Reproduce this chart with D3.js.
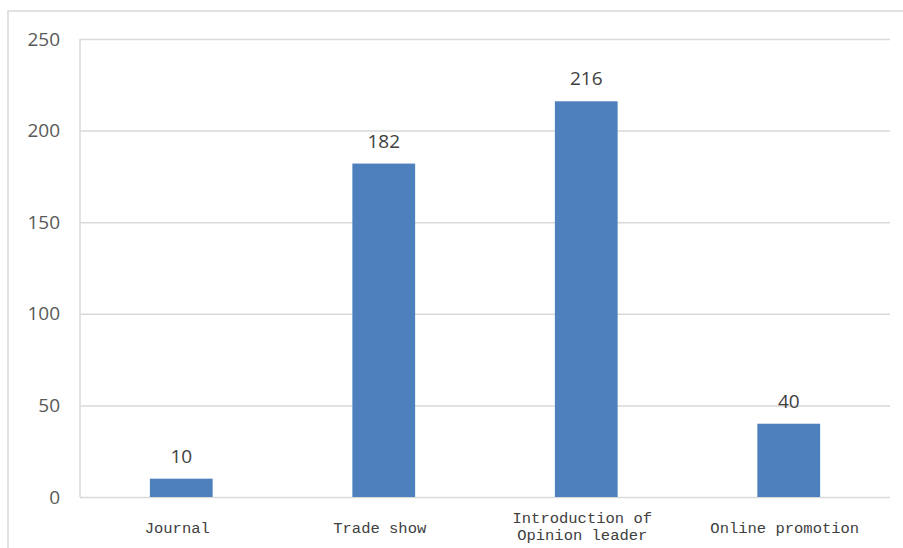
<!DOCTYPE html>
<html>
<head>
<meta charset="utf-8">
<script src="https://cdn.jsdelivr.net/npm/d3@7"></script>
<style>
  html, body { margin: 0; padding: 0; background: #fff; }
  svg { display: block; }
</style>
</head>
<body>
<svg id="chart" width="903" height="548"></svg>
<script>
// Channel categories (labels may wrap onto several lines)
const categories = [
  ["Journal"],
  ["Trade show"],
  ["Introduction of", "Opinion leader"],
  ["Online promotion"]
];
const values = [10, 182, 216, 40];
const yTicks = [0, 50, 100, 150, 200, 250];

const svg = d3.select("#chart");
const plot = { left: 80, right: 890, top: 39, bottom: 497 };

// Outer chart frame
svg.append("rect")
  .attr("x", 8).attr("y", 11)
  .attr("width", 905).attr("height", 560)
  .attr("fill", "#fff")
  .attr("stroke", "#d9d9d9").attr("stroke-width", 1.5);

const x = d3.scaleBand()
  .domain(d3.range(categories.length))
  .range([plot.left, plot.right])
  .padding(0);

const y = d3.scaleLinear()
  .domain([0, 250])
  .range([plot.bottom, plot.top]);

// Horizontal gridlines and y tick labels
const yAxis = d3.axisLeft(y)
  .tickValues(yTicks)
  .tickSize(-(plot.right - plot.left))
  .tickPadding(20)
  .tickFormat(d3.format("d"));

const gy = svg.append("g")
  .attr("transform", `translate(${plot.left},0)`)
  .call(yAxis);
gy.select(".domain").remove();
gy.selectAll(".tick line")
  .attr("stroke", "#d9d9d9").attr("stroke-width", 1.5);
gy.selectAll(".tick text")
  .attr("fill", "#595959")
  .style("font-family", "'Open Sans', sans-serif")
  .style("font-size", "19px");

// Left axis line
svg.append("line")
  .attr("x1", plot.left).attr("x2", plot.left)
  .attr("y1", plot.top).attr("y2", plot.bottom)
  .attr("stroke", "#d9d9d9").attr("stroke-width", 1.5);

// Bars
const barW = x.bandwidth() * 0.31;
svg.append("g").selectAll("rect")
  .data(values)
  .join("rect")
  .attr("x", (d, i) => x(i) + x.bandwidth() / 2 - barW / 2)
  .attr("y", d => y(d))
  .attr("width", barW)
  .attr("height", d => y(0) - y(d))
  .attr("fill", "#4e80bd");

// Value labels above bars
svg.append("g").selectAll("text")
  .data(values)
  .join("text")
  .attr("x", (d, i) => x(i) + x.bandwidth() / 2)
  .attr("y", d => y(d) - 16)
  .attr("text-anchor", "middle")
  .attr("fill", "#404040")
  .style("font-family", "'Open Sans', sans-serif")
  .style("font-size", "19px")
  .text(d => d);

// Category labels below the axis
const cat = svg.append("g").selectAll("text")
  .data(categories)
  .join("text")
  .attr("x", (d, i) => x(i) + x.bandwidth() / 2 - 4)
  .attr("y", d => d.length > 1 ? 523 : 533)
  .attr("text-anchor", "middle")
  .attr("fill", "#404040")
  .style("font-family", "'Liberation Mono', monospace")
  .style("font-size", "15.5px");
cat.selectAll("tspan")
  .data(d => d)
  .join("tspan")
  .attr("x", function () { return d3.select(this.parentNode).attr("x"); })
  .attr("dy", (d, i) => i === 0 ? 0 : 16.5)
  .text(d => d);
</script>
</body>
</html>
